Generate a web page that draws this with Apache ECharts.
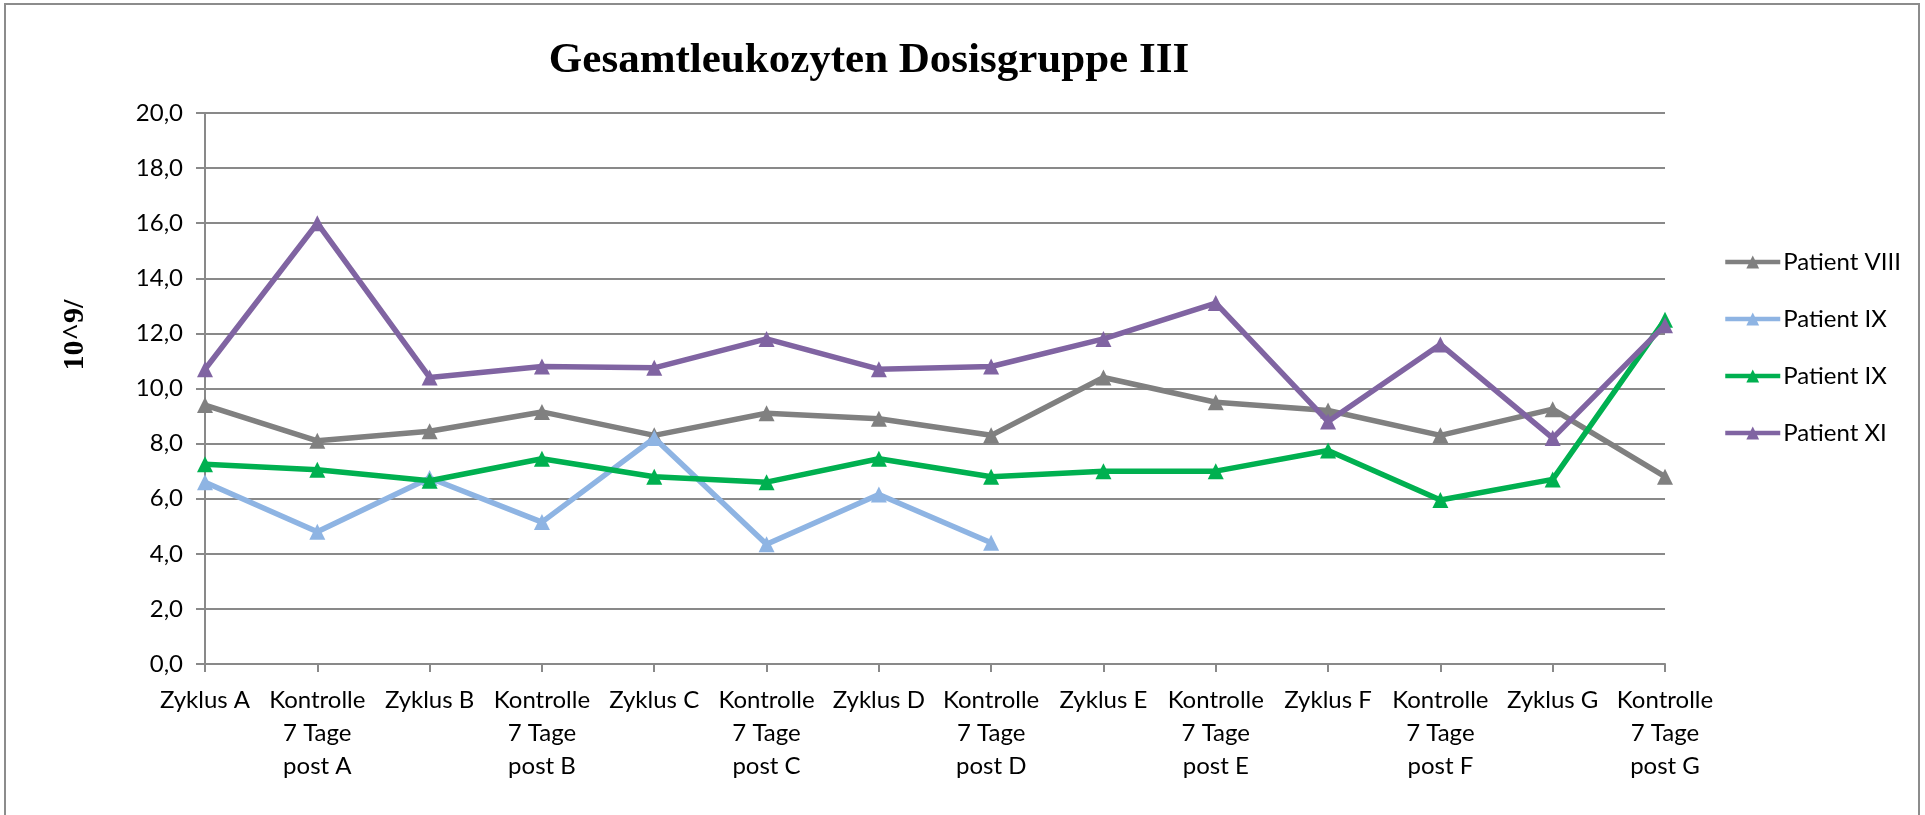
<!DOCTYPE html>
<html>
<head>
<meta charset="utf-8">
<title>Gesamtleukozyten Dosisgruppe III</title>
<script src="https://cdn.jsdelivr.net/npm/echarts@6/dist/echarts.min.js"></script>
<style>
  html, body { margin: 0; padding: 0; background: #fff; }
  #chart { width: 1925px; height: 815px; }
</style>
</head>
<body>
<div id="chart"></div>
<script>
// categories (x axis)
const categories = [
  'Zyklus A', 'Kontrolle\n7 Tage\npost A',
  'Zyklus B', 'Kontrolle\n7 Tage\npost B',
  'Zyklus C', 'Kontrolle\n7 Tage\npost C',
  'Zyklus D', 'Kontrolle\n7 Tage\npost D',
  'Zyklus E', 'Kontrolle\n7 Tage\npost E',
  'Zyklus F', 'Kontrolle\n7 Tage\npost F',
  'Zyklus G', 'Kontrolle\n7 Tage\npost G'
];

// values
const patientVIII = [9.4, 8.1, 8.45, 9.15, 8.3, 9.1, 8.9, 8.3, 10.4, 9.5, 9.2, 8.3, 9.25, 6.8];
const patientIXa  = [6.6, 4.8, 6.75, 5.15, 8.2, 4.35, 6.15, 4.4, null, null, null, null, null, null];
const patientIXb  = [7.25, 7.05, 6.65, 7.45, 6.8, 6.6, 7.45, 6.8, 7.0, 7.0, 7.75, 5.95, 6.7, 12.5];
const patientXI   = [10.7, 16.0, 10.4, 10.8, 10.75, 11.8, 10.7, 10.8, 11.8, 13.1, 8.8, 11.6, 8.2, 12.3];

// the two "Patient IX" series need distinct keys for the legend; the trailing space keeps the text identical
const seriesNames = ['Patient VIII', 'Patient IX', 'Patient IX ', 'Patient XI'];
const seriesColors = ['#808080', '#8EB4E3', '#00B050', '#8064A2'];

const chart = echarts.init(document.getElementById('chart'));

const lineSeries = (name, data, color, z) => ({
  name: name,
  type: 'line',
  data: data,
  z: z,
  symbol: 'triangle',
  symbolSize: 16,
  connectNulls: false,
  itemStyle: { color: color },
  lineStyle: { color: color, width: 5.5 },
  emphasis: { disabled: true }
});

const option = {
  backgroundColor: '#fff',
  animation: false,
  title: {
    text: 'Gesamtleukozyten Dosisgruppe III',
    left: 864,
    top: 34,
    textAlign: 'center',
    textStyle: {
      fontFamily: 'Liberation Serif',
      fontWeight: 'bold',
      fontSize: 43,
      color: '#000'
    }
  },
  legend: {
    orient: 'vertical',
    left: 1718,
    top: 245,
    itemGap: 33,
    itemWidth: 55,
    itemHeight: 16,
    lineStyle: { width: 4.5 },
    textStyle: { fontFamily: 'Lato', fontSize: 24, color: '#000', padding: [0, 0, 0, -2] },
    data: seriesNames
  },
  grid: { left: 205, right: 260, top: 113, bottom: 151 },
  xAxis: {
    type: 'category',
    data: categories,
    boundaryGap: false,
    axisLine: { lineStyle: { color: '#898989', width: 2 } },
    axisTick: { show: true, length: 8, lineStyle: { color: '#898989', width: 2 } },
    axisLabel: {
      interval: 0,
      margin: 20,
      fontFamily: 'Lato',
      fontSize: 24,
      lineHeight: 33,
      color: '#000'
    },
    splitLine: { show: false }
  },
  yAxis: {
    type: 'value',
    min: 0,
    max: 20,
    interval: 2,
    axisLine: { show: true, lineStyle: { color: '#898989', width: 2 } },
    axisTick: { show: true, length: 9, lineStyle: { color: '#898989', width: 2 } },
    axisLabel: {
      margin: 22,
      fontFamily: 'Lato',
      fontSize: 24,
      color: '#000',
      formatter: v => v.toFixed(1).replace('.', ',')
    },
    splitLine: { lineStyle: { color: '#898989', width: 2 } }
  },
  graphic: [
    {
      type: 'rect',
      shape: { x: 5, y: 4, width: 1914, height: 830 },
      style: { fill: 'none', stroke: '#8c8c8c', lineWidth: 2 },
      silent: true,
      z: -10
    },
    {
      // y axis title, sits above the axis middle like the original
      type: 'text',
      x: 75,
      y: 335,
      rotation: Math.PI / 2,
      style: {
        text: '10^9/',
        fontFamily: 'Liberation Serif',
        fontWeight: 'bold',
        fontSize: 30,
        fill: '#000',
        align: 'center',
        verticalAlign: 'middle'
      }
    }
  ],
  series: [
    lineSeries(seriesNames[0], patientVIII, seriesColors[0], 2),
    lineSeries(seriesNames[1], patientIXa, seriesColors[1], 3),
    lineSeries(seriesNames[2], patientIXb, seriesColors[2], 4),
    lineSeries(seriesNames[3], patientXI, seriesColors[3], 5)
  ]
};

chart.setOption(option);
</script>
</body>
</html>
